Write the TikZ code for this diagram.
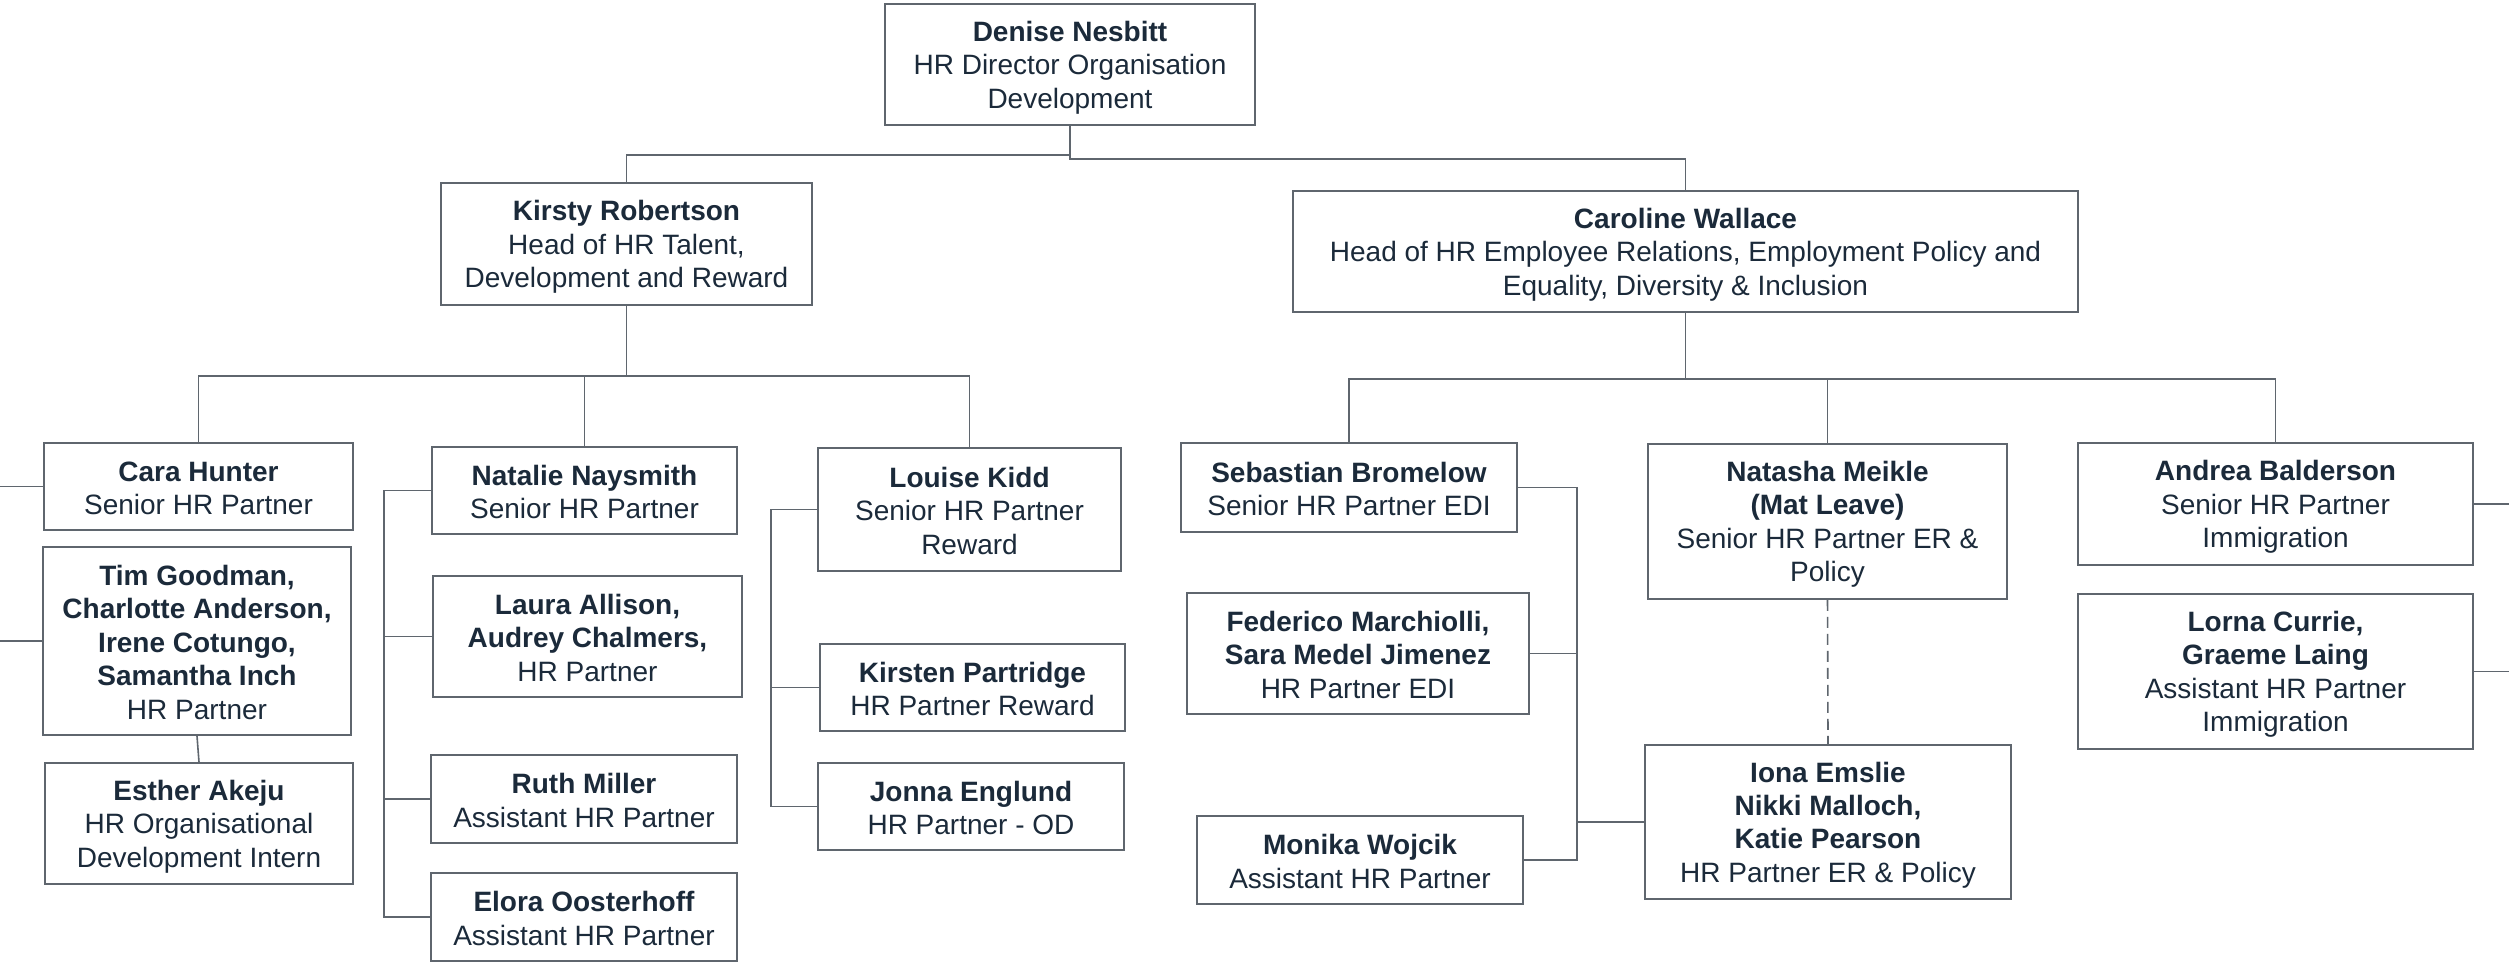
\documentclass[tikz,border=0pt]{standalone}
\usepackage{fontspec}
\setmainfont{Liberation Sans}
\definecolor{txt}{HTML}{1B2A3A}
\definecolor{edgec}{HTML}{5F666E}
\newcommand\ls{\rule[-0.12em]{0pt}{1.05em}}
\begin{document}
\begin{tikzpicture}[x=0.5pt,y=-0.5pt,
  box/.style={draw=edgec, line width=0.9pt, fill=white, text=txt, align=center, inner sep=0pt,
    font=\fontsize{14}{16.7}\selectfont},
  sz/.style 2 args={minimum width=#1*0.5pt, minimum height=#2*0.5pt},
  conn/.style={draw=edgec, line width=0.8pt},
  dotconn/.style={draw=edgec, line width=0.8pt, dash pattern=on 5.5pt off 3pt},
]
\useasboundingbox (0,0) rectangle (2509,966);
\fill[white] (0,0) rectangle (2509,966);

\coordinate (leftedge) at (0,0);
\coordinate (rightedge) at (2509,0);
\coordinate (nv) at (384,0);
\coordinate (lv) at (771,0);
\coordinate (sv) at (1577,0);

\node[box, sz={370}{121}] (denise) at (1070,64.5) {\ls\textbf{Denise Nesbitt}\\\ls HR Director Organisation\\\ls Development};
\node[box, sz={371}{122}] (kirsty) at (626.5,244) {\ls\textbf{Kirsty Robertson}\\\ls Head of HR Talent,\\\ls Development and Reward};
\node[box, sz={785}{121}] (caroline) at (1685.5,251.5) {\ls\textbf{Caroline Wallace}\\\ls Head of HR Employee Relations, Employment Policy and\\\ls Equality, Diversity \& Inclusion};

\node[box, sz={309}{87}] (cara) at (198.5,486.5) {\ls\textbf{Cara Hunter}\\\ls Senior HR Partner};
\node[box, sz={308}{188}] (tim) at (197,641) {\ls\textbf{Tim Goodman,}\\\ls\textbf{Charlotte Anderson,}\\\ls\textbf{Irene Cotungo,}\\\ls\textbf{Samantha Inch}\\\ls HR Partner};
\node[box, sz={308}{121}] (esther) at (199,823.5) {\ls\textbf{Esther Akeju}\\\ls HR Organisational\\\ls Development Intern};

\node[box, sz={305}{87}] (natalie) at (584.5,490.5) {\ls\textbf{Natalie Naysmith}\\\ls Senior HR Partner};
\node[box, sz={309}{121}] (laura) at (587.5,636.5) {\ls\textbf{Laura Allison,}\\\ls\textbf{Audrey Chalmers,}\\\ls HR Partner};
\node[box, sz={306}{88}] (ruth) at (584,799) {\ls\textbf{Ruth Miller}\\\ls Assistant HR Partner};
\node[box, sz={306}{88}] (elora) at (584,917) {\ls\textbf{Elora Oosterhoff}\\\ls Assistant HR Partner};

\node[box, sz={303}{123}] (louise) at (969.5,509.5) {\ls\textbf{Louise Kidd}\\\ls Senior HR Partner\\\ls Reward};
\node[box, sz={305}{87}] (kirsten) at (972.5,687.5) {\ls\textbf{Kirsten Partridge}\\\ls HR Partner Reward};
\node[box, sz={306}{87}] (jonna) at (971,806.5) {\ls\textbf{Jonna Englund}\\\ls HR Partner - OD};

\node[box, sz={336}{89}] (sebastian) at (1349,487.5) {\ls\textbf{Sebastian Bromelow}\\\ls Senior HR Partner EDI};
\node[box, sz={342}{121}] (federico) at (1358,653.5) {\ls\textbf{Federico Marchiolli,}\\\ls\textbf{Sara Medel Jimenez}\\\ls HR Partner EDI};
\node[box, sz={326}{88}] (monika) at (1360,860) {\ls\textbf{Monika Wojcik}\\\ls Assistant HR Partner};

\node[box, sz={359}{155}] (natasha) at (1827.5,521.5) {\ls\textbf{Natasha Meikle}\\\ls\textbf{(Mat Leave)}\\\ls Senior HR Partner ER \&\\\ls Policy};
\node[box, sz={366}{154}] (iona) at (1828,822) {\ls\textbf{Iona Emslie}\\\ls\textbf{Nikki Malloch,}\\\ls\textbf{Katie Pearson}\\\ls HR Partner ER \& Policy};

\node[box, sz={395}{122}] (andrea) at (2275.5,504) {\ls\textbf{Andrea Balderson}\\\ls Senior HR Partner\\\ls Immigration};
\node[box, sz={395}{155}] (lorna) at (2275.5,671.5) {\ls\textbf{Lorna Currie,}\\\ls\textbf{Graeme Laing}\\\ls Assistant HR Partner\\\ls Immigration};

% top level
\draw[conn] (denise.south) -- ++(0,29) -| (kirsty.north);
\draw[conn] (denise.south) -- ++(0,33) -| (caroline.north);

% Kirsty branch
\draw[conn] (kirsty.south) -- ++(0,70) coordinate (kb);
\draw[conn] (cara.north) |- (kb) -| (louise.north);
\draw[conn] (natalie.north) -- (natalie.north |- kb);

% Caroline branch
\draw[conn] (caroline.south) -- ++(0,66) coordinate (cb);
\draw[conn] (sebastian.north) |- (cb) -| (andrea.north);
\draw[conn] (natasha.north) -- (natasha.north |- cb);

% left stubs
\draw[conn] (cara.west) -- (cara.west -| leftedge);
\draw[conn] (tim.west) -- (tim.west -| leftedge);
\draw[conn] (tim.south) -- (esther.north);

% Natalie
\draw[conn] (natalie.west) -- (natalie.west -| nv) |- (elora.west);
\draw[conn] (laura.west) -- (laura.west -| nv);
\draw[conn] (ruth.west) -- (ruth.west -| nv);

% Louise
\draw[conn] (louise.west) -- (louise.west -| lv) |- (jonna.west);
\draw[conn] (kirsten.west) -- (kirsten.west -| lv);

% Sebastian
\draw[conn] (sebastian.east) -- (sebastian.east -| sv) |- (monika.east);
\draw[conn] (federico.east) -- (federico.east -| sv);
\draw[conn] (iona.west) -- (iona.west -| sv);

% Natasha dotted
\draw[dotconn] (natasha.south) -- (iona.north);

% right stubs
\draw[conn] (andrea.east) -- (andrea.east -| rightedge);
\draw[conn] (lorna.east) -- (lorna.east -| rightedge);
\end{tikzpicture}
\end{document}
